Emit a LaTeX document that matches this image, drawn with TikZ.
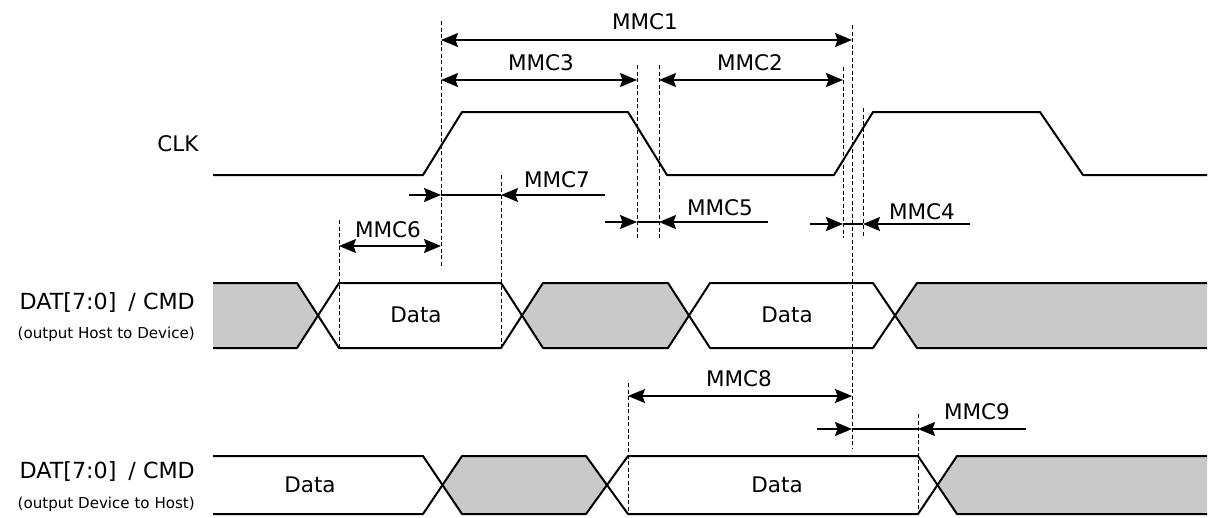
\documentclass[tikz,border=0pt]{standalone}
\usepackage{fontspec}
\setmainfont{DejaVu Sans}
\usetikzlibrary{arrows.meta}
\begin{document}
\begin{tikzpicture}[x=1pt,y=-1pt,
  wave/.style={line width=2pt, line join=round},
  dim/.style={line width=1.3pt},
  tipr/.style={-{Stealth[length=17pt,width=14pt,inset=2.5pt]}},
  tipboth/.style={{Stealth[length=17pt,width=14pt,inset=2.5pt]}-{Stealth[length=17pt,width=14pt,inset=2.5pt]}},
  guide/.style={line width=0.9pt, dash pattern=on 4pt off 2.5pt},
  lbl/.style={font=\fontsize{21.5}{24}\selectfont, inner sep=0pt},
  sig/.style={font=\fontsize{22.2}{26}\selectfont, anchor=base east, inner sep=0pt},
  sublbl/.style={font=\fontsize{15.1}{17}\selectfont, anchor=base east, inner sep=0pt},
  busfill/.style={fill=black!21, draw=none}]
\fill[white] (0,0) rectangle (1218,517);
\useasboundingbox (0,0) rectangle (1218,517);

% ---------- bus fills ----------
\fill[busfill] (213,283) -- (297,283) -- (318,315.5) -- (297,348) -- (213,348) -- cycle;
\fill[busfill] (522,315.5) -- (543,283) -- (668,283) -- (689,315.5) -- (668,348) -- (543,348) -- cycle;
\fill[busfill] (895,315.5) -- (917,283) -- (1207,283) -- (1207,348) -- (917,348) -- cycle;
\fill[busfill] (442.5,485) -- (462,456) -- (586,456) -- (607,485) -- (586,514) -- (462,514) -- cycle;
\fill[busfill] (937.5,485) -- (957,456) -- (1207,456) -- (1207,514) -- (957,514) -- cycle;

% ---------- CLK ----------
\draw[wave] (213,175) -- (423,175) -- (462,112) -- (628,112) -- (667,175) -- (834,175) -- (873,112) -- (1040,112) -- (1083,175) -- (1207,175);

% ---------- DAT host to device ----------
\draw[wave] (213,283) -- (297,283) -- (339,348) -- (501,348) -- (543,283) -- (668,283) -- (710,348) -- (873,348) -- (917,283) -- (1207,283);
\draw[wave] (213,348) -- (297,348) -- (339,283) -- (501,283) -- (543,348) -- (668,348) -- (710,283) -- (873,283) -- (917,348) -- (1207,348);

% ---------- DAT device to host ----------
\draw[wave] (213,456) -- (423,456) -- (462,514) -- (586,514) -- (628,456) -- (918,456) -- (957,514) -- (1207,514);
\draw[wave] (213,514) -- (423,514) -- (462,456) -- (586,456) -- (628,514) -- (918,514) -- (957,456) -- (1207,456);

% ---------- guide coordinates ----------
\coordinate (g441t) at (441,21);  \coordinate (g441b) at (441,268);
\coordinate (g339t) at (339,220); \coordinate (g339b) at (339,348);
\coordinate (g501t) at (501,175); \coordinate (g501b) at (501,348);
\coordinate (g637t) at (637,65);  \coordinate (g637b) at (637,238);
\coordinate (g659t) at (659,65);  \coordinate (g659b) at (659,238);
\coordinate (g843t) at (843,67);  \coordinate (g843b) at (843,238);
\coordinate (g863t) at (863,108); \coordinate (g863b) at (863,238);
\coordinate (g852t) at (852,25);  \coordinate (g852b) at (852,448);
\coordinate (g628t) at (628,383); \coordinate (g628b) at (628,514);
\coordinate (g918t) at (918,414); \coordinate (g918b) at (918,514);
\foreach \g in {441,339,501,637,659,843,863,852,628,918}
  \draw[guide] (g\g t) -- (g\g b);

% ---------- dimension arrows ----------
% MMC1
\draw[dim,tipboth] (441,40) coordinate (m1a) -- (852,40) coordinate (m1b);
% MMC3, MMC2
\draw[dim,tipboth] (441,80) coordinate (m3a) -- (637,80) coordinate (m3b);
\draw[dim,tipboth] (659,80) coordinate (m2a) -- (843,80) coordinate (m2b);
% MMC7
\coordinate (m7l) at (409,195); \coordinate (m7a) at (441,195);
\coordinate (m7b) at (501,195); \coordinate (m7r) at (605,195);
\draw[dim] (m7a) -- (m7b);
\draw[dim,tipr] (m7l) -- (m7a);
\draw[dim,tipr] (m7r) -- (m7b);
% MMC5
\coordinate (m5l) at (605,222); \coordinate (m5a) at (637,222);
\coordinate (m5b) at (659,222); \coordinate (m5r) at (768,222);
\draw[dim] (m5a) -- (m5b);
\draw[dim,tipr] (m5l) -- (m5a);
\draw[dim,tipr] (m5r) -- (m5b);
% MMC4
\coordinate (m4l) at (810,224); \coordinate (m4a) at (843,224);
\coordinate (m4b) at (863,224); \coordinate (m4r) at (970,224);
\draw[dim] (m4a) -- (m4b);
\draw[dim,tipr] (m4l) -- (m4a);
\draw[dim,tipr] (m4r) -- (m4b);
% MMC6
\draw[dim,tipboth] (339,246) coordinate (m6a) -- (441,246) coordinate (m6b);
% MMC8
\draw[dim,tipboth] (628,396) coordinate (m8a) -- (852,396) coordinate (m8b);
% MMC9
\coordinate (m9l) at (817,429); \coordinate (m9a) at (852,429);
\coordinate (m9b) at (918,429); \coordinate (m9r) at (1026,429);
\draw[dim] (m9a) -- (m9b);
\draw[dim,tipr] (m9l) -- (m9a);
\draw[dim,tipr] (m9r) -- (m9b);

% ---------- labels ----------
\node[lbl] (tMMC1) at (645,22) {MMC1};
\node[lbl] (tMMC3) at (541,63) {MMC3};
\node[lbl] (tMMC2) at (750,63) {MMC2};
\node[lbl] (tMMC7) at (557,180) {MMC7};
\node[lbl] (tMMC6) at (388,230) {MMC6};
\node[lbl] (tMMC5) at (720,208) {MMC5};
\node[lbl] (tMMC4) at (922,212) {MMC4};
\node[lbl] (tMMC8) at (739,379) {MMC8};
\node[lbl] (tMMC9) at (977,412) {MMC9};

\node[lbl] (tCLK) at (178,144) {CLK};
\node[lbl] (d1) at (416,315) {Data};
\node[lbl] (d2) at (787,315) {Data};
\node[lbl] (d3) at (310,485) {Data};
\node[lbl] (d4) at (777,485) {Data};

\node[sig] (s1) at (195,309) {DAT[7:0]\hspace{12pt}/ CMD};
\node[sublbl] (s1b) at (195,338) {(output Host to Device)};
\node[sig] (s2) at (195,478) {DAT[7:0]\hspace{12pt}/ CMD};
\node[sublbl] (s2b) at (195,508) {(output Device to Host)};
\end{tikzpicture}
\end{document}
